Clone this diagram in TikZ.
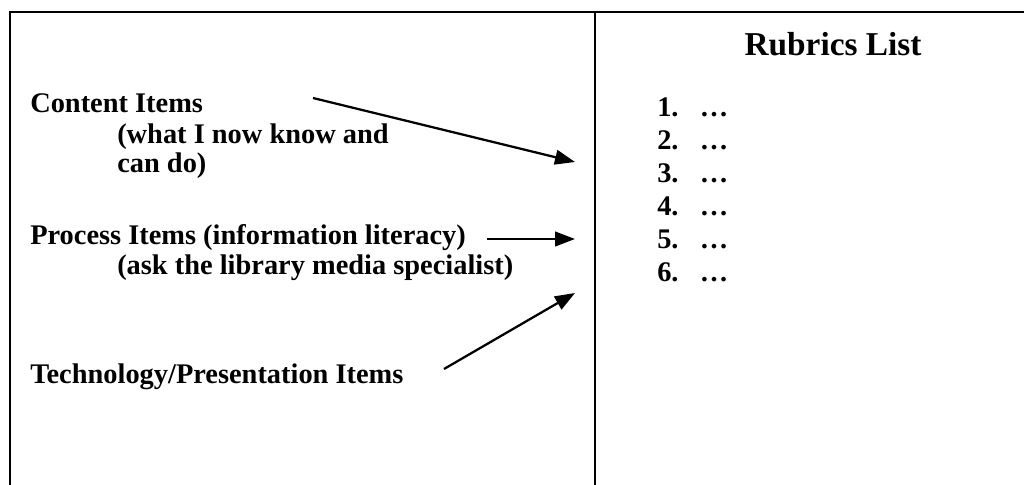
\documentclass[tikz,border=0pt]{standalone}
\usepackage{fontspec}
\setmainfont{Liberation Serif}
\usetikzlibrary{arrows.meta}
\begin{document}
\begin{tikzpicture}[x=0.75pt,y=-0.75pt,
  rule/.style={line width=2pt},
  itemtext/.style={font=\fontsize{21.3}{25}\selectfont\bfseries, anchor=base west, inner sep=0pt},
  headtext/.style={font=\fontsize{25}{30}\selectfont\bfseries, anchor=base, inner sep=0pt},
  pointer/.style={line width=1.7pt, -{Triangle[length=15pt,width=11pt]}}]
\useasboundingbox (0,0) rectangle (1024,485);
\fill[white] (0,0) rectangle (1024,485);

% table frame: top rule, left rule and column divider
\draw[rule] (10,485) -- (10,12) -- (1024,12);
\draw[rule] (595,12) -- (595,485);

% left column
\node[itemtext] (content) at (30,113) {Content Items};
\node[itemtext] (know)    at (117,143) {(what I now know and};
\node[itemtext] (cando)   at (117,172) {can do)};
\node[itemtext] (process) at (30,244) {Process Items (information literacy)};
\node[itemtext] (ask)     at (117,274) {(ask the library media specialist)};
\node[itemtext] (tech)    at (30,383) {Technology/Presentation Items};

% right column
\node[headtext] (title) at (833,56) {Rubrics List};
\foreach \n [count=\i from 0] in {1,...,6}
  \node[itemtext] (r\n) at (657,116+33*\i) {\n.\hspace{16pt}…};

% pointers into the rubrics list
\coordinate (cfrom) at (313,98);
\coordinate (cto)   at (575,162);
\coordinate (pfrom) at (487,239);
\coordinate (pto)   at (575,239);
\coordinate (tfrom) at (444,369);
\coordinate (tto)   at (575,293);
\draw[pointer] (cfrom) -- (cto);
\draw[pointer] (pfrom) -- (pto);
\draw[pointer] (tfrom) -- (tto);
\end{tikzpicture}
\end{document}
